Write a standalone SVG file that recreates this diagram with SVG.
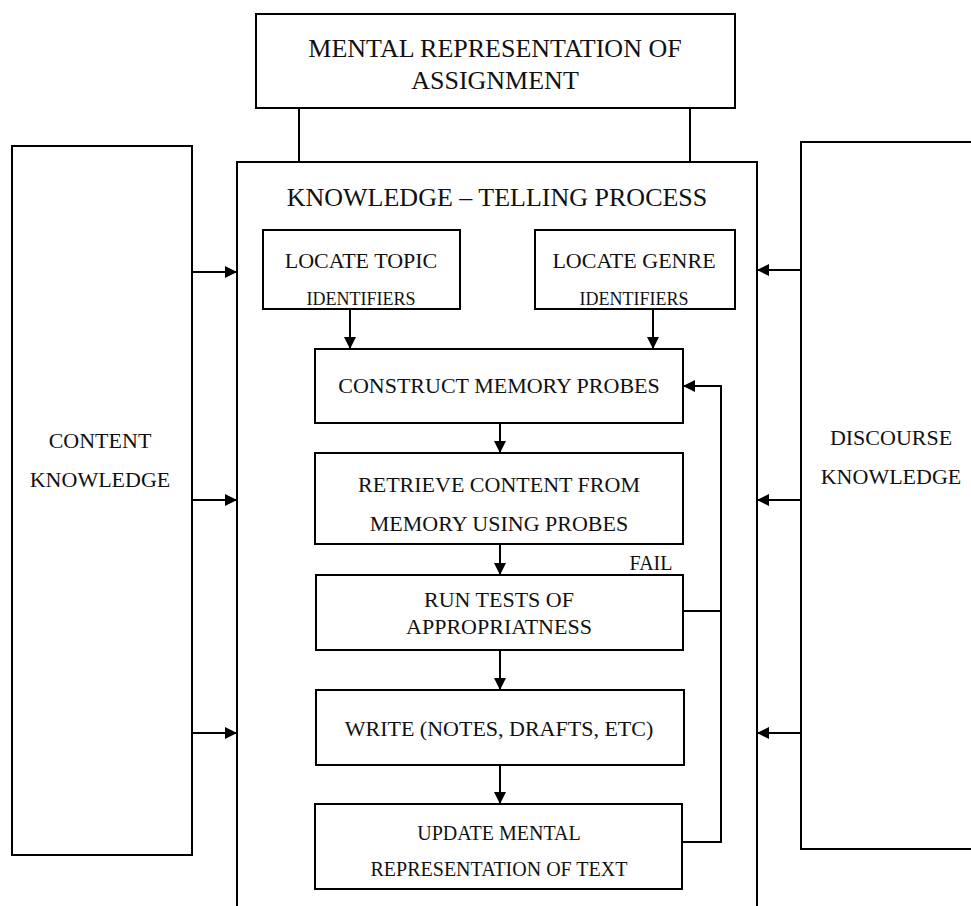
<svg xmlns="http://www.w3.org/2000/svg" width="971" height="906" viewBox="0 0 971 906">
<defs>
<style>
.box{fill:#fff;stroke:#000;stroke-width:2}
.ln{fill:none;stroke:#000;stroke-width:2}
text{font-family:"Liberation Serif","Times New Roman",serif;fill:#111;text-anchor:middle}
.t26{font-size:26px}
.t22{font-size:22px}
.t20{font-size:20px}
.t18{font-size:18px}
</style>
<marker id="ah" markerUnits="userSpaceOnUse" markerWidth="12" markerHeight="12" refX="12" refY="6" orient="auto" viewBox="0 0 12 12">
<path d="M0,0 L12,6 L0,12 z" fill="#000"/>
</marker>
</defs>
<rect width="971" height="906" fill="#fff"/>

<g id="outer-process">
<path class="ln" d="M237,906 V162 H757 V906"/>
<text class="t26" x="497" y="206">KNOWLEDGE – TELLING PROCESS</text>
</g>

<g id="mental-assignment">
<rect class="box" x="256" y="14" width="479" height="94"/>
<text class="t26" x="495" y="57">MENTAL REPRESENTATION  OF</text>
<text class="t26" x="495" y="89">ASSIGNMENT</text>
</g>

<g id="content-knowledge">
<rect class="box" x="12" y="146" width="180" height="709"/>
<text class="t22" x="100" y="448">CONTENT</text>
<text class="t22" x="100" y="487">KNOWLEDGE</text>
</g>

<g id="discourse-knowledge">
<rect class="box" x="801" y="142" width="180" height="707"/>
<text class="t22" x="891" y="445">DISCOURSE</text>
<text class="t22" x="891" y="484">KNOWLEDGE</text>
</g>

<g id="locate-topic">
<rect class="box" x="263" y="230" width="197" height="79"/>
<text class="t22" x="361" y="268">LOCATE TOPIC</text>
<text class="t18" x="361" y="305">IDENTIFIERS</text>
</g>

<g id="locate-genre">
<rect class="box" x="535" y="230" width="200" height="79"/>
<text class="t22" x="634" y="268">LOCATE GENRE</text>
<text class="t18" x="634" y="305">IDENTIFIERS</text>
</g>

<g id="construct">
<rect class="box" x="315" y="349" width="368" height="74"/>
<text class="t22" x="499" y="393">CONSTRUCT MEMORY PROBES</text>
</g>

<g id="retrieve">
<rect class="box" x="315" y="453" width="368" height="91"/>
<text class="t22" x="499" y="492">RETRIEVE CONTENT FROM</text>
<text class="t22" x="499" y="531">MEMORY USING PROBES</text>
</g>

<g id="run-tests">
<rect class="box" x="316" y="575" width="367" height="75"/>
<text class="t22" x="499" y="607">RUN TESTS OF</text>
<text class="t22" x="499" y="634">APPROPRIATNESS</text>
</g>

<g id="write">
<rect class="box" x="316" y="690" width="368" height="75"/>
<text class="t22" x="499" y="736">WRITE (NOTES, DRAFTS, ETC)</text>
</g>

<g id="update">
<rect class="box" x="315" y="804" width="367" height="85"/>
<text class="t20" x="499" y="840">UPDATE MENTAL</text>
<text class="t20" x="499" y="876">REPRESENTATION OF TEXT</text>
</g>

<g id="connectors">
<path class="ln" d="M299,108 V162"/>
<path class="ln" d="M690,108 V162"/>
<path class="ln" d="M192,272 H237" marker-end="url(#ah)"/>
<path class="ln" d="M192,500 H237" marker-end="url(#ah)"/>
<path class="ln" d="M192,733 H237" marker-end="url(#ah)"/>
<path class="ln" d="M801,270 H757" marker-end="url(#ah)"/>
<path class="ln" d="M801,500 H757" marker-end="url(#ah)"/>
<path class="ln" d="M801,733 H757" marker-end="url(#ah)"/>
<path class="ln" d="M350,309 V349" marker-end="url(#ah)"/>
<path class="ln" d="M653,309 V349" marker-end="url(#ah)"/>
<path class="ln" d="M500,423 V453" marker-end="url(#ah)"/>
<path class="ln" d="M500,544 V575" marker-end="url(#ah)"/>
<path class="ln" d="M500,650 V690" marker-end="url(#ah)"/>
<path class="ln" d="M500,765 V804" marker-end="url(#ah)"/>
<path class="ln" d="M683,611 H721"/>
<path class="ln" d="M682,842 H721 V386 H683" marker-end="url(#ah)"/>
<text class="t20" x="651" y="570">FAIL</text>
</g>
</svg>
